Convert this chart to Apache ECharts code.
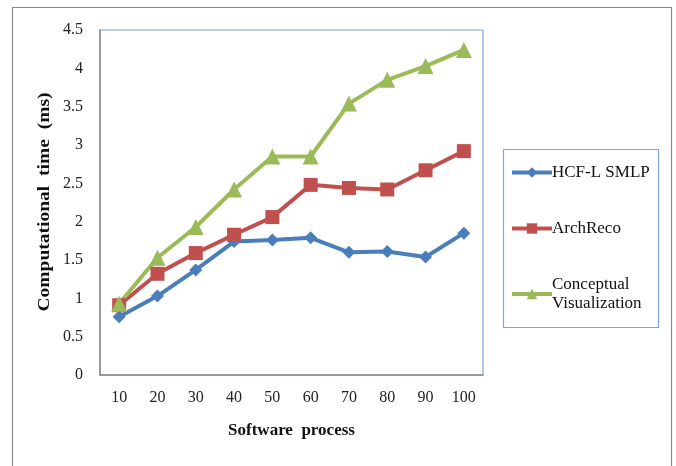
<!DOCTYPE html>
<html>
<head>
<meta charset="utf-8">
<script src="https://cdn.jsdelivr.net/npm/echarts@6/dist/echarts.min.js"></script>
<style>
  html, body { margin: 0; padding: 0; background: #fff; }
  #chart { width: 676px; height: 466px; }
</style>
</head>
<body>
<div id="chart"></div>
<script>
// Software process sizes (x axis)
const categories = ['10', '20', '30', '40', '50', '60', '70', '80', '90', '100'];
// Computational time (ms) per method
const hcfLsmlp = [0.76, 1.03, 1.37, 1.74, 1.76, 1.79, 1.60, 1.61, 1.54, 1.85];
const archReco = [0.91, 1.32, 1.59, 1.83, 2.06, 2.48, 2.44, 2.42, 2.67, 2.92];
const conceptualVis = [0.93, 1.53, 1.93, 2.42, 2.85, 2.85, 3.54, 3.85, 4.03, 4.24];
// Y tick values
const yTicks = [0, 0.5, 1, 1.5, 2, 2.5, 3, 3.5, 4, 4.5];

const serif = '"Liberation Serif", "DejaVu Serif", serif';
const chart = echarts.init(document.getElementById('chart'), null, { renderer: 'canvas' });

function lineSeries(name, data, color, symbol, size) {
  return {
    name: name,
    type: 'line',
    data: data,
    symbol: symbol,
    symbolSize: size,
    lineStyle: { color: color, width: 4 },
    itemStyle: { color: color },
    z: 3
  };
}

chart.setOption({
  animation: false,
  backgroundColor: '#fff',
  grid: {
    left: 100, top: 30, right: 193, bottom: 91,
    show: true, borderColor: '#7fa6da', borderWidth: 1.2, backgroundColor: '#fff'
  },
  xAxis: {
    type: 'category',
    data: categories,
    boundaryGap: true,
    axisLine: { lineStyle: { color: '#8c8c8c', width: 1.5 } },
    axisTick: { show: false },
    axisLabel: { color: '#222', fontFamily: serif, fontSize: 16, margin: 15 },
    name: 'Software  process',
    nameLocation: 'middle',
    nameGap: 47,
    nameTextStyle: { color: '#111', fontFamily: serif, fontSize: 17, fontWeight: 'bold' }
  },
  yAxis: {
    type: 'value',
    min: yTicks[0],
    max: yTicks[yTicks.length - 1],
    interval: 0.5,
    splitLine: { show: false },
    axisLine: { show: true, lineStyle: { color: '#8c8c8c', width: 1.5 } },
    axisTick: { show: false },
    axisLabel: { color: '#222', fontFamily: serif, fontSize: 16, margin: 17 }
  },
  legend: {
    orient: 'vertical',
    left: 505,
    top: 158,
    itemWidth: 40,
    itemHeight: 13,
    itemGap: 37,
    lineStyle: { width: 4 },
    textStyle: { color: '#111', fontFamily: serif, fontSize: 17, lineHeight: 19, padding: [0, 0, 0, -5] },
    data: [
      { name: 'HCF-L SMLP' },
      { name: 'ArchReco' },
      { name: 'Conceptual\nVisualization' }
    ]
  },
  graphic: [
    {
      type: 'rect',
      shape: { x: 12.5, y: 7.5, width: 659, height: 480 },
      style: { fill: null, stroke: '#8a8a8a', lineWidth: 1.2 },
      silent: true, z: 0
    },
    {
      type: 'rect',
      shape: { x: 503.5, y: 149.5, width: 155, height: 178 },
      style: { fill: null, stroke: '#7fa6da', lineWidth: 1.2 },
      silent: true, z: 10
    },
    {
      // Y axis title, stretched along its run
      type: 'text',
      x: 45,
      y: 202,
      rotation: Math.PI / 2,
      scaleX: 1.22,
      silent: true,
      z: 10,
      style: {
        text: 'Computational  time  (ms)',
        font: 'bold 16px "Liberation Serif", "DejaVu Serif", serif',
        fill: '#111',
        align: 'center',
        verticalAlign: 'middle'
      }
    }
  ],
  series: [
    lineSeries('HCF-L SMLP', hcfLsmlp, '#4a7ebb', 'diamond', 13),
    lineSeries('ArchReco', archReco, '#c0504d', 'rect', 14),
    lineSeries('Conceptual\nVisualization', conceptualVis, '#9bbb59', 'triangle', 16)
  ]
});
</script>
</body>
</html>
